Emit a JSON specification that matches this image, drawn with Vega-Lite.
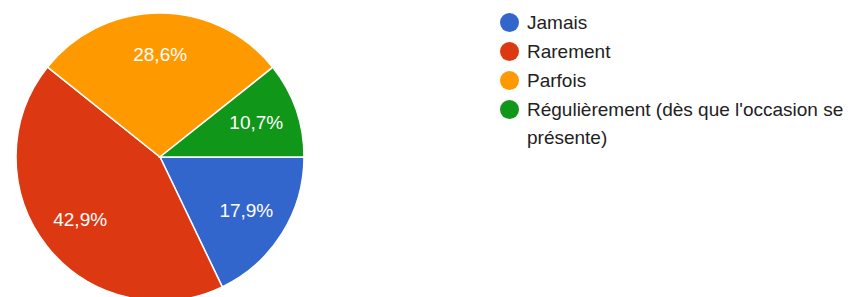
{
  "$schema": "https://vega.github.io/schema/vega-lite/v6.json",
  "autosize": {"type": "none"},
  "width": 320,
  "height": 314,
  "padding": {"left": 0, "top": 0, "right": 532, "bottom": -17},
  "background": "white",
  "data": {
    "values": [
      {"k": 1, "cat": "Jamais", "pct": 17.9, "lab": "17,9%"},
      {"k": 2, "cat": "Rarement", "pct": 42.9, "lab": "42,9%"},
      {"k": 3, "cat": "Parfois", "pct": 28.6, "lab": "28,6%"},
      {"k": 4, "cat": "Régulièrement (dès que l'occasion se présente)", "pct": 10.7, "lab": "10,7%"}
    ]
  },
  "encoding": {
    "theta": {"field": "pct", "type": "quantitative", "stack": true, "scale": {"range": [1.5707963, 7.8539816]}},
    "order": {"field": "k", "type": "quantitative"}
  },
  "layer": [
    {
      "mark": {"type": "arc", "outerRadius": 144, "stroke": "white", "strokeWidth": 1.5},
      "encoding": {
        "color": {
          "field": "cat",
          "type": "nominal",
          "scale": {
            "domain": ["Jamais", "Rarement", "Parfois", "Régulièrement (dès que l'occasion se présente)"],
            "range": ["#3366CC", "#DC3912", "#FF9900", "#109618"]
          },
          "legend": {
            "title": null,
            "orient": "none",
            "legendX": 500,
            "legendY": 13,
            "padding": 0,
            "symbolType": "circle",
            "symbolSize": 361,
            "symbolStrokeWidth": 0,
            "symbolOpacity": 1,
            "labelFont": "Liberation Sans",
            "labelFontSize": 19,
            "labelColor": "#222222",
            "labelOffset": 8,
            "labelLimit": 500,
            "rowPadding": 9,
            "labelExpr": "datum.label == \"Régulièrement (dès que l'occasion se présente)\" ? [\"Régulièrement (dès que l'occasion se\", \"présente)\"] : datum.label"
          }
        }
      }
    },
    {
      "mark": {"type": "text", "radius": 102, "fontSize": 19, "font": "Liberation Sans"},
      "encoding": {
        "text": {"field": "lab"},
        "detail": {"field": "cat"},
        "color": {"value": "white"}
      }
    }
  ],
  "config": {
    "view": {"stroke": null},
    "style": {"guide-label": {"lineHeight": 28}}
  }
}
